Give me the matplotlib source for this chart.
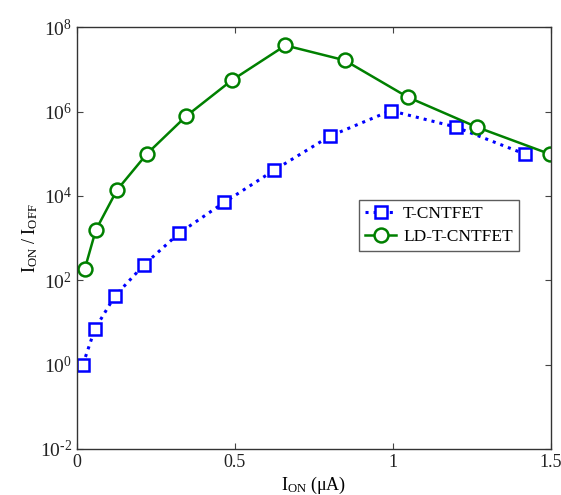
import numpy as np
import matplotlib
matplotlib.use("Agg")
import matplotlib.pyplot as plt

plt.rcParams['font.family'] = ['Liberation Serif', 'DejaVu Serif']
plt.rcParams['mathtext.fontset'] = 'custom'
plt.rcParams['mathtext.rm'] = 'Liberation Serif'
plt.rcParams['mathtext.it'] = 'Liberation Serif:italic'

# T-CNTFET
t_x = [0.019, 0.057, 0.12, 0.212, 0.323, 0.466, 0.625, 0.80, 0.993, 1.199, 1.418]
t_y = [1.0, 7.0, 42, 230, 1300, 7000, 4.1e4, 2.6e5, 1.05e6, 4.3e5, 9.8e4]

# LD-T-CNTFET
ld_x = [0.025, 0.06, 0.127, 0.222, 0.346, 0.49, 0.66, 0.847, 1.047, 1.265, 1.497]
ld_y = [185, 1550, 1.38e4, 1.0e5, 7.8e5, 5.5e6, 3.7e7, 1.65e7, 2.2e6, 4.3e5, 9.8e4]

y_exps = [-2, 0, 2, 4, 6, 8]
x_ticks = [0, 0.5, 1, 1.5]
x_labels = ['0', '0.5', '1', '1.5']

fig = plt.figure(figsize=(5.61, 4.95), dpi=100)
ax = fig.add_axes([0.137, 0.093, 0.845, 0.852])

ax.plot(t_x, t_y, color='#0000ff', linestyle=':', linewidth=2.2,
        marker='s', markersize=8, markerfacecolor='white',
        markeredgecolor='#0000ff', markeredgewidth=1.8, label='T-CNTFET')
ax.plot(ld_x, ld_y, color='#008000', linestyle='-', linewidth=1.8,
        marker='o', markersize=10, markerfacecolor='white',
        markeredgecolor='#008000', markeredgewidth=1.8, label='LD-T-CNTFET')

ax.set_yscale('log')
ax.set_xlim(0, 1.5)
ax.set_ylim(1e-2, 1e8)
ax.set_yticks([10.0 ** e for e in y_exps])
ylabels = []
for e in y_exps:
    if e < 0:
        ylabels.append(r'$\mathregular{10^{\text{-}%d}}$' % (-e))
    else:
        ylabels.append(r'$\mathregular{10^{%d}}$' % e)
ax.set_yticklabels(ylabels)
ax.yaxis.set_minor_locator(matplotlib.ticker.NullLocator())
ax.set_xticks(x_ticks)
ax.set_xticklabels(x_labels)
ax.tick_params(direction='in', length=4, width=0.8, colors='#444444',
               labelcolor='#222222', labelsize=13, top=True, right=True)
ax.tick_params(axis='y', labelsize=14)
for s in ax.spines.values():
    s.set_color('#333333')
    s.set_linewidth(1.0)

ax.set_xlabel(r'I$_{\mathregular{ON}}$ (μA)', fontsize=13, labelpad=3)
ax.set_ylabel(r'I$_{\mathregular{ON}}$ / I$_{\mathregular{OFF}}$', fontsize=13, labelpad=0)

leg = ax.legend(loc='upper left', bbox_to_anchor=(0.595, 0.59), fontsize=12.5,
                frameon=True, fancybox=False, edgecolor='#333333',
                handlelength=1.8, borderpad=0.35, labelspacing=0.35,
                handletextpad=0.4, borderaxespad=0)
leg.get_frame().set_linewidth(1.0)

fig.savefig('out.png', dpi=100)
